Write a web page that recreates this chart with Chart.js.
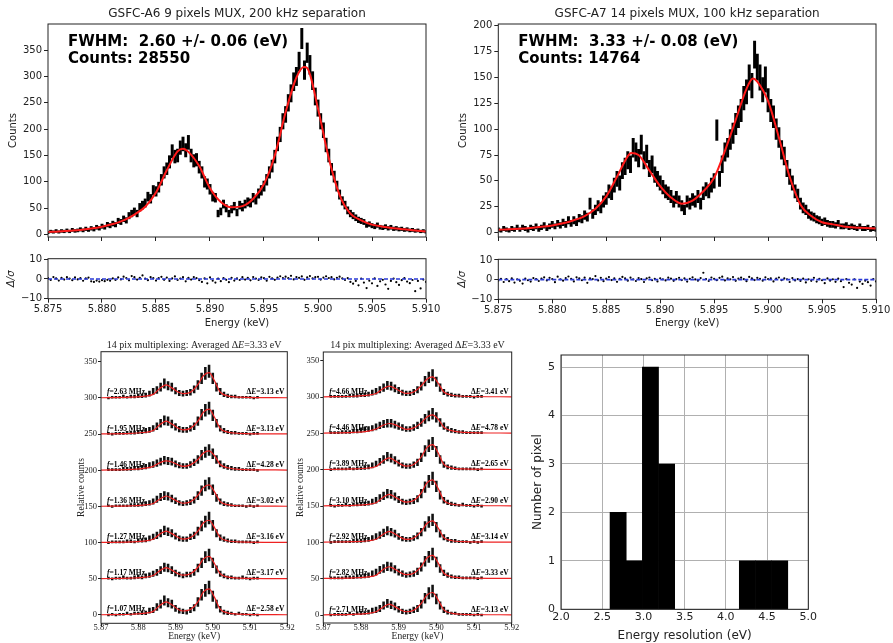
<!DOCTYPE html>
<html>
<head>
<meta charset="utf-8">
<script src="https://cdn.jsdelivr.net/npm/chart.js@4.4.1/dist/chart.umd.min.js"></script>
<style>
  html, body { margin: 0; padding: 0; background: #fff; overflow: hidden; }
  #page { position: relative; width: 893px; height: 643px; overflow: hidden; background: #fff; }
  canvas { position: absolute; }
</style>
</head>
<body>
<div id="page">
  <canvas id="a6Main" width="445" height="245" style="left:0;top:0"></canvas>
  <canvas id="a6Res" width="445" height="85" style="left:0;top:248px"></canvas>
  <canvas id="a7Main" width="450" height="245" style="left:445px;top:0"></canvas>
  <canvas id="a7Res" width="450" height="85" style="left:445px;top:248px"></canvas>
  <canvas id="muxA" width="245" height="307" style="left:55px;top:336px"></canvas>
  <canvas id="muxB" width="245" height="307" style="left:277px;top:336px"></canvas>
  <canvas id="histChart" width="373" height="303" style="left:520px;top:340px"></canvas>
</div>
<script>
// ---------- data ----------
// top spectra: 0.25 eV bins starting at 5.875 keV
const topBinStart = 5.875;
const topBinWidth = 0.00025;

const a6Counts = [4,6,5,7, 5,7,6,8, 6,9,7,8, 10,8,11,9,
  12,10,14,12, 16,14,19,17, 21,19,26,24, 30,27,36,40,
  44,40,52,56, 60,72,68,84, 82,90,104,118, 125,138,158,148,
  150,165,172,160, 175,150,140,142, 128,118,100,96, 86,72,70,40,
  44,58,50,40, 48,54,42,56, 52,58,62,60, 70,66,78,84,
  92,104,118,130, 148,172,190,215, 228,250,268,290, 300,328,372,312,
  345,322,292,262, 240,215,198,170, 150,124,110,92, 76,64,56,46,
  40,36,32,28, 26,24,18,20, 17,15,18,14, 13,15,12,14,
  11,12,10,11, 9,10,8,9, 7,8,6,7, 5];

const a6FitE = [5.875,5.876,5.877,5.878,5.879,5.880,5.881,5.882,5.883,5.884,5.885,5.886,5.887,5.8875,5.888,5.889,5.890,5.891,5.892,5.893,5.894,5.895,5.896,5.897,5.898,5.8987,5.899,5.900,5.901,5.902,5.903,5.904,5.905,5.906,5.907,5.908,5.909,5.910];
const a6Fit = [5,6,7.5,9,11.5,15,20,27,38,53,80,122,158,163,157,130,88,62,52,54,68,96,150,232,298,318,316,239,145,75,40,27,19,15,12,10,8,6];

const a6Resid = [0.5,-0.5,1,0.3,-0.8,0.6,-0.3,0.9,0.2,-0.6,0.8,-0.2,0.4,-0.9,0.3,0.7,
  -1.2,-1.5,-0.8,-1.3,-0.6,-1.1,-0.4,-0.9,
  0.3,-0.5,0.8,-0.2,1.2,0.5,-0.7,1.5,0.9,-0.3,0.6,1.8,0.2,-0.6,0.9,0.4,
  -0.8,0.5,1.1,-0.4,0.7,-1.0,0.3,1.3,-0.5,0.2,0.9,-1.2,0.6,-0.3,1.0,0.4,
  -0.6,-1.5,0.3,-2.2,0.8,-0.9,-1.8,0.2,-1.1,0.5,-0.4,-1.6,0.6,-0.8,0.3,-0.5,
  0.9,-0.3,0.6,-0.7,1.0,0.2,-0.5,0.8,0.4,-0.9,1.1,0.3,-0.4,0.7,1.4,0.5,
  1.2,0.4,1.6,-0.2,1.0,0.6,1.3,-0.4,0.8,1.5,0.3,0.9,1.1,-0.3,0.7,1.4,
  0.5,0.9,-0.2,0.6,1.2,0.3,-0.5,0.4,-1.5,-2.4,-1.0,-3.2,0.2,-1.8,-4.6,-0.9,
  -2.2,0.3,-3.5,-1.2,-0.4,-2.8,-5.0,-1.0,0.2,-1.6,-3.0,-0.6,0.4,-1.3,-2.1,-0.5,
  -6.2,-1.0,-4.8,-0.3,-1.5];

const a7Counts = [3,2,4,3, 2,4,3,5, 3,5,4,2, 5,4,6,3,
  5,7,4,6, 8,6,9,7, 10,8,12,9, 12,10,14,13,
  17,15,28,18, 22,26,24,30, 33,40,38,46, 52,48,60,64,
  70,66,82,78, 72,85,70,76, 62,66,56,52, 48,44,40,38,
  35,30,34,30, 26,22,30,28, 32,30,35,28, 38,42,40,46,
  50,99,52,66, 78,82,90,96, 105,112,118,130, 136,150,142,172,
  160,150,138,148, 128,118,112,100, 92,80,74,62, 54,48,40,36,
  28,24,22,18, 16,15,13,12, 10,11,9,8, 8,7,9,6,
  6,7,5,6, 5,4,6,4, 4,5,3,4, 3];

const a7FitE = [5.875,5.876,5.877,5.878,5.879,5.880,5.881,5.882,5.883,5.884,5.885,5.886,5.887,5.8873,5.888,5.889,5.890,5.891,5.892,5.893,5.894,5.895,5.896,5.897,5.898,5.8986,5.899,5.900,5.901,5.902,5.903,5.904,5.905,5.906,5.907,5.908,5.909,5.910];
const a7Fit = [2.8,3.2,3.8,4.6,5.6,7,9,12,16,23,35,54,74,77,75,60,45,34,28,31,40,53,79,109,139,149,146,127,92,54,27,16,10,8,6,5,4.5,4];

const a7Resid = [-0.5,0.4,-1.2,0.3,-0.8,0.6,-1.5,0.2,-0.6,-2.0,0.5,-0.3,-1.0,0.8,0.3,-0.7,
  0.5,1.2,-0.4,0.9,0.3,-1.3,1.5,0.2,-0.5,0.8,1.6,0.4,-0.9,1.2,0.6,-0.3,
  1.0,-1.6,0.7,0.3,1.8,-0.4,0.9,-0.8,0.5,1.3,-0.2,0.7,-1.1,0.4,1.4,0.6,
  -0.5,1.0,0.2,-0.7,0.8,0.3,-1.2,0.6,1.1,-0.3,0.4,-0.9,0.7,0.2,-0.4,1.0,
  0.5,-0.6,0.3,0.9,-0.2,0.6,-1.0,0.4,1.2,0.1,-0.5,0.8,3.5,0.3,-0.7,1.1,
  0.4,-0.3,0.9,1.5,-0.4,0.7,0.2,1.3,-0.6,0.5,1.0,0.3,-0.8,1.4,0.6,-0.2,
  0.9,0.4,-0.5,1.2,0.3,0.7,-0.9,0.5,1.1,-0.3,0.6,0.2,-1.2,0.8,-0.4,0.3,
  -0.7,0.5,-1.4,0.2,-0.6,0.9,-1.0,0.4,-0.3,-1.8,0.6,-0.5,0.2,-1.1,0.5,-0.8,
  -3.8,0.3,-1.6,-2.5,0.2,-4.2,-1.0,-2.2,-0.5,-1.3,-3.0,0.3,-0.9];

const topXTicks = [5.875, 5.880, 5.885, 5.890, 5.895, 5.900, 5.905, 5.910];
const a6YTicks = [0, 50, 100, 150, 200, 250, 300, 350];
const a7YTicks = [0, 25, 50, 75, 100, 125, 150, 175, 200];
const resYTicks = [-10, 0, 10];

// multiplexed pixels: 1 eV bins from 5.872 keV, rows shifted by 50
const smallBinStart = 5.872;
const smallBinWidth = 0.001;
const rowOffsets = [0, 50, 100, 150, 200, 250, 300];
const smallFitE = [5.870,5.878,5.882,5.884,5.886,5.8875,5.889,5.891,5.892,5.894,5.896,5.8975,5.899,5.9005,5.902,5.904,5.907,5.920];

const freqA = [1.07, 1.17, 1.27, 1.36, 1.46, 1.95, 2.63];
const dEA = [2.58, 3.17, 3.16, 3.02, 4.28, 3.13, 3.13];
const freqB = [2.71, 2.82, 2.92, 3.10, 3.89, 4.46, 4.66];
const dEB = [3.13, 3.33, 3.14, 2.90, 2.65, 4.78, 3.41];

const countsA = [
  [0,1,0,1,1,2,1,2,2,3,3,6,7,11,15,20,17,15,9,6,5,4,7,10,18,28,34,38,26,15,8,4,3,2,1,2,1,1,0,1,0],
  [1,0,1,1,2,1,1,2,3,2,4,5,7,9,12,16,15,12,8,6,4,6,6,9,15,22,30,33,22,13,7,4,2,2,1,1,2,1,0,1,1],
  [0,1,1,1,1,2,2,1,3,3,4,6,8,10,13,17,15,13,9,6,5,5,8,10,16,23,29,34,24,13,7,5,3,2,2,1,1,1,1,0,1],
  [1,0,1,1,1,1,2,2,2,3,4,5,7,10,13,15,14,11,8,5,4,5,6,9,15,22,29,32,23,12,7,4,3,2,1,1,1,0,1,0,1],
  [1,1,1,1,2,2,2,3,3,4,5,7,8,10,12,14,13,12,9,7,6,6,8,11,15,21,25,28,23,15,9,6,4,3,2,2,1,1,1,1,0],
  [1,0,1,1,1,2,2,2,3,3,5,6,8,11,15,19,18,14,10,7,6,6,8,11,18,27,33,36,26,15,8,5,3,2,2,1,1,1,0,1,1],
  [0,1,1,1,2,1,2,2,3,3,4,6,9,11,15,20,17,15,10,7,6,7,8,12,18,27,34,37,27,15,9,5,3,2,2,1,1,1,1,0,1]
];
const fitsA = [
  [0.3,1,2.5,5,14,18,14,7,5.5,7.5,18,32,36,24,8,3,1.2,0.3],
  [0.3,1,2.3,4.5,12,15.5,12,6.3,5,7,16,27.5,31,20.5,7,2.6,1,0.3],
  [0.3,1,2.4,4.6,12.5,16,12.5,6.5,5,7,16,27.5,31,20.5,7,2.6,1,0.3],
  [0.3,0.9,2.2,4.2,11,14.5,11.2,5.8,4.5,6.5,15.5,26.5,30,19.8,6.7,2.5,1,0.3],
  [0.4,1.3,3,5.5,11,13,11.5,7,5.5,7.5,15,24,27,20,8,3.5,1.4,0.4],
  [0.3,1.1,2.6,5,14,18,14,7.5,6,8,18,30.5,34.5,23,7.8,2.9,1.2,0.3],
  [0.3,1.1,2.6,5,14,18,14,7.5,6,8,18.5,31,35,23.5,8,3,1.2,0.3]
];
const countsB = [
  [0,1,1,1,1,2,1,2,3,2,4,6,7,9,13,16,14,12,8,5,4,5,7,9,15,23,30,33,22,13,7,4,2,2,1,1,1,1,0,1,0],
  [1,1,1,1,2,2,2,3,3,4,5,7,9,12,14,17,16,13,9,7,5,6,7,10,16,24,30,34,23,14,8,5,3,2,2,1,1,1,1,0,1],
  [0,1,1,1,1,1,2,2,2,3,4,6,8,10,13,16,14,12,8,5,4,4,6,9,14,22,28,31,21,12,7,4,2,2,1,1,1,0,1,0,1],
  [1,0,1,1,2,1,2,2,3,3,4,6,8,11,14,17,16,13,9,6,5,6,7,10,17,26,34,38,27,15,8,5,3,2,1,2,1,1,0,1,0],
  [0,1,1,1,1,2,1,2,2,3,4,6,8,11,14,18,16,13,9,6,5,5,7,10,17,26,33,36,25,14,7,4,3,2,1,1,1,1,1,0,1],
  [1,1,1,2,2,2,3,3,4,5,6,7,9,11,13,14,14,12,10,8,6,6,8,11,15,20,24,27,22,15,10,6,4,3,2,2,1,1,1,1,1],
  [1,1,1,1,1,2,2,2,3,3,4,6,8,10,13,16,15,12,9,6,5,5,7,10,15,22,27,30,21,13,7,4,3,2,2,1,1,1,0,1,1]
];
const fitsB = [
  [0.3,1,2.3,4.4,11.5,15,11.5,5.8,4.5,6.5,16,27.5,31,20.5,7,2.6,1,0.3],
  [0.3,1.1,2.5,4.8,13,16.4,13,7,5.5,7.5,17,28.5,32,21.5,7.5,2.8,1.1,0.3],
  [0.3,1,2.2,4.3,11.5,15,11.5,5.5,4,6,15,26,29.5,19.5,6.6,2.5,1,0.3],
  [0.3,1,2.4,4.6,12.5,16,12.5,6.8,5.5,7.5,18,32,36,24,7.8,2.8,1.1,0.3],
  [0.3,1,2.3,4.4,12.5,16.4,12.5,6.3,5,7.2,17.5,30.5,34.5,23,7.4,2.6,1,0.3],
  [0.4,1.4,3.2,6,11.5,13.6,12,7.2,5.5,7.5,14.5,22.5,25.5,19.5,8.5,3.8,1.5,0.4],
  [0.3,1.1,2.6,4.8,12,15,12,6.5,5,7,15.5,24.5,27.7,19,7,2.8,1.1,0.3]
];
const smallXTicks = [5.87, 5.88, 5.89, 5.90, 5.91, 5.92];
const smallYTicks = [0, 50, 100, 150, 200, 250, 300, 350];

// histogram of energy resolution
const binEdges = [2.595, 2.791, 2.987, 3.183, 3.379, 3.575, 3.771, 3.967, 4.163, 4.359, 4.555, 4.751];
const binCounts = [2, 1, 5, 3, 0, 0, 0, 0, 1, 1, 1];
const histXTicks = [2.0, 2.5, 3.0, 3.5, 4.0, 4.5, 5.0];
const histYTicks = [0, 1, 2, 3, 4, 5];

// ---------- helpers ----------
Chart.defaults.font.family = '"DejaVu Sans", sans-serif';
Chart.defaults.color = '#222';
Chart.defaults.animation = false;
Chart.defaults.responsive = false;
Chart.defaults.plugins.legend.display = false;
Chart.defaults.plugins.tooltip.enabled = false;

const SERIF = '"Liberation Serif", "DejaVu Serif", serif';

function binCentres(start, width, n) {
  const out = [];
  for (let i = 0; i < n; i++) out.push(start + i * width);
  return out;
}
const topE = binCentres(topBinStart, topBinWidth, a6Counts.length);
const smallE = binCentres(smallBinStart, smallBinWidth, countsA[0].length);

// poisson error bars; the small spectra are rescaled counts, hence the scale factor
function errorBars(E, counts, offset, scale) {
  return E.map((e, i) => {
    const err = Math.sqrt(Math.max(counts[i], 1) * scale);
    return { x: e, y: [offset + counts[i] - err, offset + counts[i] + err] };
  });
}
function points(E, vals, offset) {
  return E.map((e, i) => ({ x: e, y: offset + vals[i] }));
}
function fixedTicks(list) {
  return s => { s.ticks = list.map(v => ({ value: v })); };
}

const frame = {
  id: 'frame',
  afterDraw(chart) {
    const { ctx, chartArea: a } = chart;
    ctx.save();
    ctx.strokeStyle = '#222';
    ctx.lineWidth = 1;
    ctx.strokeRect(a.left, a.top, a.right - a.left, a.bottom - a.top);
    ctx.restore();
  }
};

function header(title, lines) {
  return {
    id: 'header',
    afterDraw(chart) {
      const { ctx, chartArea: a } = chart;
      ctx.save();
      ctx.fillStyle = '#222';
      ctx.textAlign = 'center';
      ctx.textBaseline = 'middle';
      ctx.font = '12px "DejaVu Sans"';
      ctx.fillText(title, (a.left + a.right) / 2, a.top - 10);
      ctx.textAlign = 'left';
      ctx.textBaseline = 'alphabetic';
      ctx.fillStyle = '#000';
      ctx.font = 'bold 15px "DejaVu Sans"';
      lines.forEach((t, i) => ctx.fillText(t, a.left + 20, a.top + 22 + i * 16.6));
      ctx.restore();
    }
  };
}

function spectrumChart(id, s) {
  new Chart(document.getElementById(id), {
    type: 'bar',
    data: {
      datasets: [{
        type: 'line',
        data: points(s.fitE, s.fit, 0),
        borderColor: '#ff1a1a',
        borderWidth: 2,
        pointRadius: 0,
        cubicInterpolationMode: 'monotone',
        order: 0
      }, {
        type: 'bar',
        data: errorBars(topE, s.counts, 0, 1),
        backgroundColor: '#000',
        barThickness: 2.3,
        order: 1
      }]
    },
    options: {
      layout: { padding: { left: 0, top: 24, right: 19, bottom: 0 } },
      scales: {
        x: {
          type: 'linear', min: 5.875, max: 5.910, offset: false,
          afterBuildTicks: fixedTicks(topXTicks),
          afterFit: sc => { sc.height = s.xHeight; },
          grid: { drawOnChartArea: false, tickLength: 4, color: '#222', offset: false },
          border: { display: false },
          ticks: { display: false }
        },
        y: {
          min: s.yMin, max: s.yMax,
          afterBuildTicks: fixedTicks(s.yTicks),
          afterFit: sc => { sc.width = s.yWidth; },
          grid: { drawOnChartArea: false, tickLength: 4, color: '#222' },
          border: { display: false },
          ticks: { autoSkip: false, padding: 2, font: { size: 10 } },
          title: { display: true, text: 'Counts', font: { size: 10, lineHeight: 1.2 }, padding: { top: s.yTitlePad, bottom: 0 } }
        }
      }
    },
    plugins: [frame, header(s.title, s.lines)]
  });
}

function residualChart(id, r) {
  new Chart(document.getElementById(id), {
    type: 'scatter',
    data: {
      datasets: [{
        type: 'line',
        data: [{ x: topE[0], y: 0 }, { x: topE[topE.length - 1], y: 0 }],
        borderColor: '#2a3ad6',
        borderWidth: 1.6,
        borderDash: [4, 2],
        pointRadius: 0,
        order: 0
      }, {
        data: points(topE, r.resid, 0),
        pointRadius: 1.1,
        backgroundColor: '#000',
        borderWidth: 0,
        order: 1
      }]
    },
    options: {
      layout: { padding: { left: 0, top: r.top, right: 19, bottom: 0 } },
      scales: {
        x: {
          type: 'linear', min: 5.875, max: 5.910,
          afterBuildTicks: fixedTicks(topXTicks),
          afterFit: sc => { sc.height = r.xHeight; },
          grid: { drawOnChartArea: false, tickLength: 4, color: '#222' },
          border: { display: false },
          ticks: { autoSkip: false, maxRotation: 0, padding: 1, font: { size: 10 }, callback: v => v.toFixed(3) },
          title: { display: true, text: 'Energy (keV)', font: { size: 10, lineHeight: 1.2 }, padding: { top: 0, bottom: 4 } }
        },
        y: {
          min: -10, max: r.yMax,
          afterBuildTicks: fixedTicks(resYTicks),
          afterFit: sc => { sc.width = r.yWidth; },
          grid: { drawOnChartArea: false, tickLength: 4, color: '#222' },
          border: { display: false },
          ticks: { autoSkip: false, padding: 2, font: { size: 10 }, callback: v => v < 0 ? '\u2212' + Math.abs(v) : String(v) },
          title: { display: true, text: 'Δ/σ', font: { size: 10, style: 'italic', lineHeight: 1.2 }, padding: { top: r.yTitlePad, bottom: 0 } }
        }
      }
    },
    plugins: [frame]
  });
}

function drawParts(ctx, parts, x, y, align) {
  const widths = parts.map(p => { ctx.font = p[1]; return ctx.measureText(p[0]).width; });
  const total = widths.reduce((a, b) => a + b, 0);
  let cx = align === 'right' ? x - total : align === 'center' ? x - total / 2 : x;
  ctx.textAlign = 'left';
  parts.forEach((p, i) => { ctx.font = p[1]; ctx.fillText(p[0], cx, y); cx += widths[i]; });
}

function muxLabels(freqs, dEs) {
  return {
    id: 'muxLabels',
    afterDraw(chart) {
      const { ctx, chartArea: a, scales: { y } } = chart;
      const b = 'bold 7.5px ' + SERIF, bi = 'italic bold 7.5px ' + SERIF;
      ctx.save();
      ctx.fillStyle = '#000';
      ctx.textBaseline = 'alphabetic';
      rowOffsets.forEach((off, i) => {
        const yy = y.getPixelForValue(off) - 3.5;
        drawParts(ctx, [['f', bi], ['=' + freqs[i].toFixed(2) + ' MHz', b]], a.left + 6, yy, 'left');
        drawParts(ctx, [['Δ', b], ['E', bi], ['=' + dEs[i].toFixed(2) + ' eV', b]], a.right - 3, yy, 'right');
      });
      const r = '10px ' + SERIF, ri = 'italic 10px ' + SERIF;
      ctx.fillStyle = '#222';
      ctx.textBaseline = 'middle';
      drawParts(ctx, [['14 pix multiplexing: Averaged Δ', r], ['E', ri], ['=3.33 eV', r]], (a.left + a.right) / 2, a.top - 6.5, 'center');
      ctx.restore();
    }
  };
}

function muxChart(id, m) {
  const datasets = [];
  rowOffsets.forEach((off, r) => {
    datasets.push({
      type: 'line',
      data: points(smallFitE, m.fits[r], off),
      borderColor: '#ee2222',
      borderWidth: 1.2,
      pointRadius: 0,
      cubicInterpolationMode: 'monotone',
      order: 0
    });
    datasets.push({
      type: 'bar',
      data: errorBars(smallE, m.counts[r], off, 2),
      backgroundColor: '#111',
      barThickness: 1.9,
      grouped: false,
      order: 1
    });
  });
  new Chart(document.getElementById(id), {
    type: 'bar',
    data: { datasets },
    options: {
      layout: { padding: { left: 0, top: m.top, right: m.right, bottom: 0 } },
      scales: {
        x: {
          type: 'linear', min: 5.87, max: 5.92, offset: false,
          afterBuildTicks: fixedTicks(smallXTicks),
          afterFit: sc => { sc.height = m.xHeight; },
          grid: { drawOnChartArea: false, tickLength: 3, color: '#222', offset: false },
          border: { display: false },
          ticks: { autoSkip: false, maxRotation: 0, padding: -2.5, font: { family: SERIF, size: 8.5, lineHeight: 1 }, callback: v => v.toFixed(2) },
          title: { display: true, text: 'Energy (keV)', font: { family: SERIF, size: 9.5, lineHeight: 1 }, padding: { top: 0, bottom: 2.2 } }
        },
        y: {
          min: m.yMin, max: m.yMax,
          afterBuildTicks: fixedTicks(smallYTicks),
          afterFit: sc => { sc.width = m.yWidth; },
          grid: { drawOnChartArea: false, tickLength: 3, color: '#222' },
          border: { display: false },
          ticks: { autoSkip: false, padding: 1, font: { family: SERIF, size: 8.5 } },
          title: { display: true, text: 'Relative counts', font: { family: SERIF, size: 9.5, lineHeight: 1 }, padding: { top: m.yTitlePad, bottom: 0 } }
        }
      }
    },
    plugins: [frame, muxLabels(m.freqs, m.dEs)]
  });
}

// ---------- charts ----------
spectrumChart('a6Main', {
  counts: a6Counts, fitE: a6FitE, fit: a6Fit,
  yMin: -4.5, yMax: 399.5, yTicks: a6YTicks, yWidth: 48, xHeight: 4, yTitlePad: 7.3,
  title: 'GSFC-A6 9 pixels MUX, 200 kHz separation',
  lines: ['FWHM:  2.60 +/- 0.06 (eV)', 'Counts: 28550']
});
residualChart('a6Res', { resid: a6Resid, top: 10.7, yMax: 10.3, yWidth: 48, xHeight: 34.3, yTitlePad: 5.7 });

spectrumChart('a7Main', {
  counts: a7Counts, fitE: a7FitE, fit: a7Fit,
  yMin: -4.2, yMax: 201.6, yTicks: a7YTicks, yWidth: 53.3, xHeight: 3.3, yTitlePad: 12.3,
  title: 'GSFC-A7 14 pixels MUX, 100 kHz separation',
  lines: ['FWHM:  3.33 +/- 0.08 (eV)', 'Counts: 14764']
});
residualChart('a7Res', { resid: a7Resid, top: 11.3, yMax: 10.35, yWidth: 53.3, xHeight: 33.7, yTitlePad: 11.3 });

muxChart('muxA', {
  counts: countsA, fits: fitsA, freqs: freqA, dEs: dEA,
  top: 15.7, right: 12.7, yWidth: 46, xHeight: 19.7, yMin: -11.5, yMax: 364, yTitlePad: 21.5
});
muxChart('muxB', {
  counts: countsB, fits: fitsB, freqs: freqB, dEs: dEB,
  top: 16, right: 10.3, yWidth: 46.3, xHeight: 20, yMin: -11, yMax: 362, yTitlePad: 18.5
});

const ctxH = document.getElementById('histChart');
new Chart(ctxH, {
  type: 'bar',
  data: {
    datasets: [{
      data: binCounts.map((c, i) => ({ x: (binEdges[i] + binEdges[i + 1]) / 2, y: c })),
      backgroundColor: '#000',
      borderWidth: 0,
      barPercentage: 1,
      categoryPercentage: 1
    }]
  },
  options: {
    layout: { padding: { left: 0, top: 15, right: 84.7, bottom: 0 } },
    scales: {
      x: {
        type: 'linear', min: 2, max: 5, offset: false, z: 1,
        afterBuildTicks: fixedTicks(histXTicks),
        afterFit: sc => { sc.height = 33.7; },
        grid: { color: '#b0b0b0', drawTicks: false, offset: false },
        border: { display: false },
        ticks: { autoSkip: false, maxRotation: 0, padding: 1, font: { size: 11 }, callback: v => v.toFixed(1) },
        title: { display: true, text: 'Energy resolution (eV)', font: { size: 12, lineHeight: 1.2 }, padding: { top: 0, bottom: 0 } }
      },
      y: {
        min: 0, max: 5.25, z: 1,
        afterBuildTicks: fixedTicks(histYTicks),
        afterFit: sc => { sc.width = 41; },
        grid: { color: '#b0b0b0', drawTicks: false },
        border: { display: false },
        ticks: { autoSkip: false, padding: 6, font: { size: 11 } },
        title: { display: true, text: 'Number of pixel', font: { size: 12, lineHeight: 1.2 }, padding: { top: 11, bottom: 0 } }
      }
    }
  },
  plugins: [frame]
});
</script>
</body>
</html>
